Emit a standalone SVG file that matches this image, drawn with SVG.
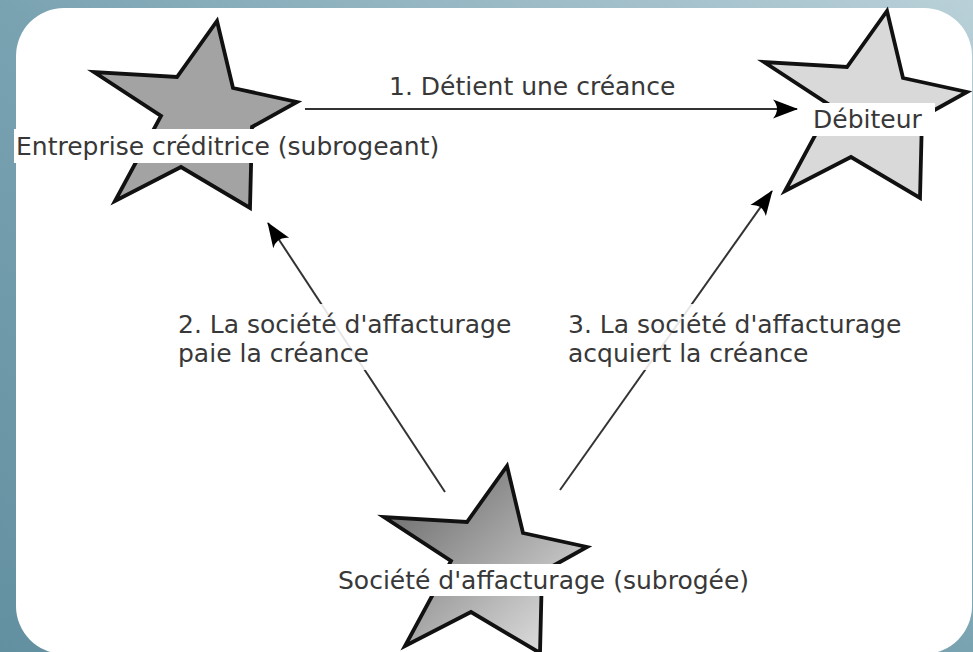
<svg xmlns="http://www.w3.org/2000/svg" width="973" height="652" viewBox="0 0 973 652">
<style>
.star{stroke:#111;stroke-width:3.8;stroke-linejoin:miter}
.lbl{font-family:"DejaVu Sans","Verdana",sans-serif;font-size:25px;fill:#383838}
.band{fill:#fff}
.conn{stroke:#333;stroke-width:2;fill:none}
</style>
<defs>
<linearGradient id="bg" x1="0" y1="1" x2="1" y2="0">
<stop offset="0" stop-color="#6390a1"/>
<stop offset="0.5" stop-color="#7aa3b2"/>
<stop offset="1" stop-color="#b9d0d8"/>
</linearGradient>
<linearGradient id="g3" x1="0" y1="0" x2="1" y2="1">
<stop offset="0" stop-color="#5e5e5e"/>
<stop offset="1" stop-color="#ececec"/>
</linearGradient>
<path id="starShape" d="M217,21 L233,88 L297,102 L252,127 L250,208 L181,167 L115,201 L161,116 L94,72 L177,77 Z"/>
<marker id="arr" markerUnits="userSpaceOnUse" markerWidth="32" markerHeight="22" viewBox="-26 -11 28 22" refX="0" refY="0" orient="auto">
<path d="M1,0 L-24,-9.5 Q-16,0 -24,9.5 Z" fill="#000"/>
</marker>
</defs>
<rect x="0" y="0" width="973" height="652" fill="url(#bg)"/>
<rect x="16" y="8" width="956" height="646" rx="48" ry="48" fill="#fff"/>
<g id="connectors">
<line class="conn" x1="305" y1="109" x2="797" y2="109" marker-end="url(#arr)"/>
<line class="conn" x1="445" y1="492" x2="268" y2="223" marker-end="url(#arr)"/>
<line class="conn" x1="560" y1="490" x2="772" y2="191" marker-end="url(#arr)"/>
<text class="lbl" x="389" y="95">1. Détient une créance</text>
<rect x="174" y="304" width="340" height="66" fill="#fff" opacity="0.88"/>
<text class="lbl" x="178" y="333">2. La société d'affacturage</text>
<text class="lbl" x="178" y="362">paie la créance</text>
<rect x="564" y="304" width="340" height="66" fill="#fff" opacity="0.88"/>
<text class="lbl" x="568" y="333">3. La société d'affacturage</text>
<text class="lbl" x="568" y="362">acquiert la créance</text>
</g>
<g id="node-entreprise">
<use href="#starShape" class="star" fill="#a3a3a3"/>
<rect class="band" x="14" y="129" width="436" height="34"/>
<text class="lbl" x="16" y="155">Entreprise créditrice (subrogeant)</text>
</g>
<g id="node-debiteur">
<use href="#starShape" class="star" fill="#d9d9d9" transform="translate(670,-10)"/>
<rect class="band" x="811" y="103" width="124" height="33"/>
<text class="lbl" x="813" y="128">Débiteur</text>
</g>
<g id="node-societe">
<use href="#starShape" class="star" fill="url(#g3)" transform="translate(290,445)"/>
<rect class="band" x="336" y="564" width="412" height="32"/>
<text class="lbl" x="338" y="589">Société d'affacturage (subrogée)</text>
</g>
</svg>
